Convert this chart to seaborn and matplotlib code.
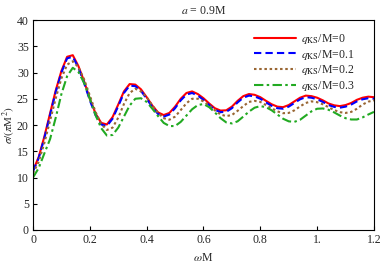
import numpy as np
import pandas as pd
import matplotlib
matplotlib.use("Agg")
import matplotlib.pyplot as plt
import seaborn as sns

# omega*M grid (step 0.02)
omega = np.round(np.arange(0, 1.2001, 0.02), 2)

# sigma/(pi M^2), one list per q_KS/M
sig_q0 = [11.3, 13.9, 17.8, 22.2, 26.6, 30.3, 33.0, 33.3, 31.2, 28.3,
          25.0, 22.2, 20.4, 20.1, 21.5, 23.9, 26.4, 27.8, 27.7, 26.8,
          25.3, 23.7, 22.4, 21.9, 22.3, 23.5, 25.0, 26.1, 26.4, 25.9,
          25.1, 24.1, 23.2, 22.75, 22.8, 23.5, 24.6, 25.5, 25.9, 25.75,
          25.3, 24.6, 23.95, 23.5, 23.4, 23.8, 24.5, 25.2, 25.6, 25.5,
          25.2, 24.7, 24.1, 23.75, 23.6, 23.8, 24.2, 24.8, 25.2, 25.4,
          25.3]
sig_q1 = [11.2, 13.7, 17.5, 21.9, 26.3, 30.0, 32.7, 33.0, 30.9, 28.0,
          24.7, 21.9, 20.1, 19.8, 21.2, 23.6, 26.1, 27.5, 27.4, 26.5,
          25.0, 23.4, 22.1, 21.6, 22.0, 23.2, 24.7, 25.8, 26.1, 25.6,
          24.8, 23.8, 22.9, 22.45, 22.5, 23.2, 24.3, 25.2, 25.6, 25.45,
          25.0, 24.3, 23.65, 23.2, 23.1, 23.5, 24.2, 24.9, 25.3, 25.2,
          24.9, 24.4, 23.8, 23.45, 23.3, 23.5, 23.9, 24.5, 24.9, 25.1,
          25.0]
sig_q2 = [10.8, 13.0, 16.6, 20.8, 25.1, 28.9, 31.5, 32.15, 31.0, 28.7,
          25.6, 22.5, 20.2, 19.05, 19.5, 21.4, 24.0, 26.1, 26.9, 26.4,
          25.3, 23.75, 22.3, 21.3, 21.0, 21.6, 22.85, 24.15, 25.0, 25.0,
          24.5, 23.7, 22.8, 22.0, 21.7, 21.9, 22.7, 23.6, 24.4, 24.6,
          24.4, 23.8, 23.2, 22.6, 22.25, 22.3, 22.8, 23.55, 24.2, 24.5,
          24.35, 23.95, 23.4, 22.85, 22.45, 22.3, 22.5, 23.1, 23.9, 24.45,
          24.7]
sig_q3 = [10.0, 11.8, 14.6, 17.3, 21.4, 25.9, 29.3, 30.9, 30.1, 28.0,
          25.0, 21.9, 19.4, 18.0, 18.1, 19.5, 21.6, 23.7, 25.0, 25.1,
          24.4, 23.1, 21.7, 20.4, 19.8, 19.8, 20.6, 21.8, 23.0, 23.8,
          24.0, 23.4, 22.4, 21.3, 20.5, 20.3, 20.7, 21.6, 22.55, 23.3,
          23.6, 23.4, 22.8, 22.0, 21.2, 20.7, 20.6, 21.0, 21.8, 22.6,
          23.1, 23.15, 22.9, 22.4, 21.8, 21.3, 21.05, 21.05, 21.45, 22.0,
          22.5]

labels = [r"$q_{\mathrm{KS}}$/M=0", r"$q_{\mathrm{KS}}$/M=0.1",
          r"$q_{\mathrm{KS}}$/M=0.2", r"$q_{\mathrm{KS}}$/M=0.3"]
colors = ["#ff0000", "#0000ff", "#996633", "#22aa22"]
dashes = [None, (3.5, 2.0), (1.2, 1.3), (4.5, 1.6, 1.2, 1.6)]

xticks = [0, 0.2, 0.4, 0.6, 0.8, 1.0, 1.2]
xticklabels = ["0", "0.2", "0.4", "0.6", "0.8", "1.", "1.2"]
yticks = [0, 5, 10, 15, 20, 25, 30, 35, 40]

sns.set_theme(style="ticks")
plt.rcParams["font.family"] = ["Liberation Serif", "DejaVu Serif"]
plt.rcParams["mathtext.fontset"] = "stix"

fig = plt.figure(figsize=(3.82, 2.67), dpi=100)
ax = fig.add_axes([0.0864, 0.1386, 0.8926, 0.7864])

for s, lab, c, d in zip([sig_q0, sig_q1, sig_q2, sig_q3], labels, colors, dashes):
    sns.lineplot(x=omega, y=s, ax=ax, color=c, linewidth=1.5, label=lab)
    line = ax.get_lines()[-1]
    if d is not None:
        line.set_dashes(d)

ax.set_xlim(0, 1.2)
ax.set_ylim(0, 40)
ax.set_xticks(xticks)
ax.set_xticklabels(xticklabels)
ax.set_yticks(yticks)
ax.tick_params(direction="in", length=3, width=0.8, labelsize=8.5, color="black",
               top=False, right=False, pad=3)
for sp in ax.spines.values():
    sp.set_color("black")
    sp.set_linewidth(0.8)

ax.set_xlabel(r"$\omega$M", fontsize=8.5, labelpad=4)
ax.set_ylabel(r"$\sigma/(\pi$M$^2)$", fontsize=8)
ax.yaxis.set_label_coords(-0.046, 0.5)
ax.set_title(r"$a$ = 0.9M", fontsize=8.5, pad=4)

ax.legend(loc="upper right", bbox_to_anchor=(0.977, 1.0), frameon=False,
          fontsize=8.5, handlelength=3.6, handletextpad=0.4,
          labelspacing=0.15, borderaxespad=0.5, borderpad=0.5)

fig.savefig("out.png", dpi=100)
